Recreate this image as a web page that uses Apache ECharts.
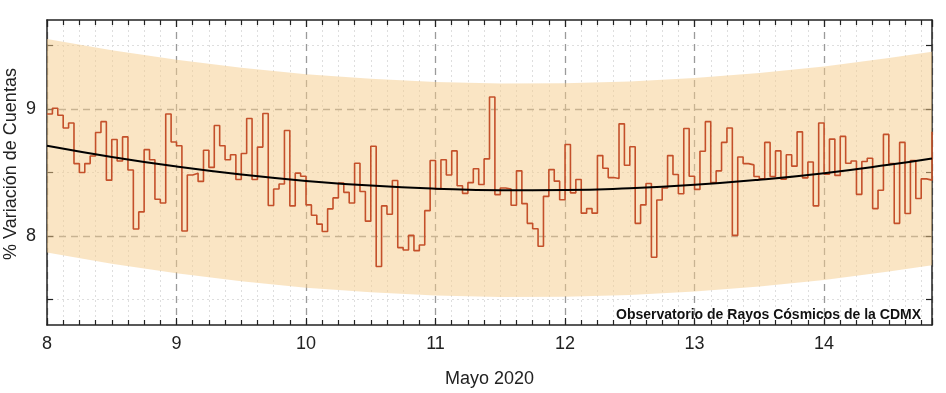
<!DOCTYPE html>
<html><head><meta charset="utf-8">
<script src="https://cdn.jsdelivr.net/npm/echarts@6/dist/echarts.min.js"></script>
<style>html,body{margin:0;padding:0;background:#fff}#c{width:946px;height:393px}</style>
</head><body><div id="c"></div>
<script>
// ---- data ----
const startDay = 8;            // 8 de mayo, 00:00
const hoursShown = 164;        // last visible hour boundary
const hourlyValues = [
 8.96, 9.005, 8.95, 8.85, 8.89, 8.57, 8.50, 8.57, 8.63, 8.815, 8.90, 8.44, 8.76, 8.59, 8.78, 8.52,
 8.055, 8.19, 8.68, 8.60, 8.29, 8.26, 8.96, 8.74, 8.71, 8.04, 8.48, 8.495, 8.43, 8.675, 8.54, 8.87,
 8.71, 8.60, 8.64, 8.445, 8.65, 8.925, 8.445, 8.70, 8.964, 8.24, 8.37, 8.41, 8.83, 8.237, 8.495, 8.47,
 8.245, 8.164, 8.094, 8.036, 8.214, 8.30, 8.417, 8.344, 8.26, 8.573, 8.35, 8.117, 8.706, 7.76, 8.237, 8.172,
 8.4375, 7.909, 7.89, 8.005, 7.885, 7.93, 8.20, 8.594, 8.37, 8.60, 8.48, 8.67, 8.396, 8.336, 8.42, 8.53,
 8.406, 8.607, 9.094, 8.326, 8.378, 8.37, 8.242, 8.513, 8.255, 8.10, 8.057, 7.92, 8.3125, 8.523, 8.432, 8.286,
 8.72, 8.34, 8.445, 8.18, 8.216, 8.18, 8.633, 8.534, 8.46, 8.453, 8.883, 8.557, 8.703, 8.10, 8.245, 8.414,
 7.833, 8.284, 8.378, 8.633, 8.484, 8.333, 8.846, 8.471, 8.367, 8.667, 8.90, 8.42, 8.513, 8.737, 8.85, 8.005,
 8.622, 8.57, 8.56, 8.469, 8.45, 8.737, 8.469, 8.67, 8.448, 8.64, 8.55, 8.82, 8.458, 8.583, 8.237, 8.89,
 8.487, 8.763, 8.477, 8.784, 8.573, 8.591, 8.328, 8.586, 8.612, 8.216, 8.36, 8.80, 8.57, 8.10, 8.737, 8.177,
 8.594, 8.295, 8.45, 8.44, 8.82
];
const fitX      = [8, 8.5, 9, 9.5, 10, 10.5, 11, 11.5, 12, 12.5, 13, 13.5, 14, 14.5, 14.8333];
const fitValues = [8.710, 8.622, 8.547, 8.484, 8.434, 8.397, 8.373, 8.361, 8.362, 8.376, 8.403, 8.443, 8.495, 8.561, 8.611];
const bandUpper = [9.550, 9.462, 9.387, 9.324, 9.274, 9.237, 9.213, 9.201, 9.202, 9.216, 9.243, 9.283, 9.335, 9.401, 9.451];
const bandLower = [7.870, 7.782, 7.707, 7.644, 7.594, 7.557, 7.533, 7.521, 7.522, 7.536, 7.563, 7.603, 7.655, 7.721, 7.771];
const xTickLabels = [8, 9, 10, 11, 12, 13, 14];
const yTickLabels = [8, 9];
const yTickMarks = [7.5, 8, 8.5, 9, 9.5];
const yMinorGrid = [7.5, 8.5, 9.5];
const xTitle = 'Mayo 2020';
const yTitle = '% Variación de Cuentas';
const credit = 'Observatorio de Rayos Cósmicos de la CDMX';

// ---- chart ----
const FONT = "'Liberation Sans', Arial, sans-serif";
const xMin = startDay, xMax = startDay + hoursShown / 24;
const yMin = 7.3, yMax = 9.7;
const stepData = hourlyValues.map((v, i) => [startDay + i / 24, v]);
const fitData = fitX.map((x, i) => [x, fitValues[i]]);
const bandData = fitX.map((x, i) => [x, bandLower[i], bandUpper[i]]);

const axisLineStyle = { color: '#222', width: 1.5 };
const chart = echarts.init(document.getElementById('c'), null, { renderer: 'canvas' });
chart.setOption({
  animation: false,
  backgroundColor: '#fff',
  grid: { left: 47, right: 14, top: 20, bottom: 67, containLabel: false },
  xAxis: [{
    type: 'value', min: xMin, max: xMax, interval: 1, position: 'bottom',
    name: xTitle, nameLocation: 'middle', nameGap: 45,
    nameTextStyle: { fontFamily: FONT, fontSize: 18, color: '#222' },
    axisLine: { show: true, onZero: false, lineStyle: axisLineStyle },
    axisTick: { show: true, inside: true, length: 7, lineStyle: { color: '#222', width: 1.2 } },
    minorTick: { show: true, splitNumber: 8, length: 5, lineStyle: { color: '#222', width: 1.2 } },
    axisLabel: { fontFamily: FONT, fontSize: 18, color: '#222', margin: 10, showMaxLabel: false,
      formatter: v => (xTickLabels.indexOf(Math.round(v * 1000) / 1000) >= 0 ? String(Math.round(v)) : '') },
    splitLine: { show: true, lineStyle: { color: '#9a9a9a', width: 1.3, type: [7, 5] } },
    minorSplitLine: { show: true, lineStyle: { color: '#dedede', width: 1, type: [2, 3] } }
  }, {
    type: 'value', min: xMin, max: xMax, interval: 1, position: 'top',
    axisLine: { show: true, onZero: false, lineStyle: axisLineStyle },
    axisTick: { show: true, inside: true, length: 7, lineStyle: { color: '#222', width: 1.2 } },
    minorTick: { show: true, splitNumber: 8, length: 5, lineStyle: { color: '#222', width: 1.2 } },
    axisLabel: { show: false }, splitLine: { show: false }
  }],
  yAxis: [{
    type: 'value', min: yMin, max: yMax, position: 'left',
    axisLine: { show: true, onZero: false, lineStyle: axisLineStyle },
    axisTick: { show: true, inside: true, length: 6, customValues: yTickMarks, lineStyle: { color: '#222', width: 1.2 } },
    axisLabel: { fontFamily: FONT, fontSize: 18, color: '#222', margin: 11, customValues: yTickLabels },
    splitLine: { show: false }
  }, {
    type: 'value', min: yMin, max: yMax, position: 'right',
    axisLine: { show: true, onZero: false, lineStyle: axisLineStyle },
    axisTick: { show: true, inside: true, length: 6, customValues: yTickMarks, lineStyle: { color: '#222', width: 1.2 } },
    axisLabel: { show: false }, splitLine: { show: false }
  }],
  series: [
    { // horizontal grid lines (under the band)
      type: 'line', data: [], z: 0, silent: true,
      markLine: {
        z: 0, silent: true, symbol: ['none', 'none'], label: { show: false }, animation: false,
        data: [
          ...yTickLabels.map(v => ({ yAxis: v, lineStyle: { color: '#9a9a9a', width: 1.3, type: [7, 5] } })),
          ...yMinorGrid.map(v => ({ yAxis: v, lineStyle: { color: '#dedede', width: 1, type: [2, 3] } }))
        ]
      }
    },
    { // confidence band drawn as one polygon through the axis scales
      type: 'custom', data: bandData, z: 1, silent: true, clip: true,
      encode: { x: 0, y: [1, 2] },
      renderItem: function (params, api) {
        if (params.dataIndex !== 0) return null;
        const pts = [];
        for (let i = 0; i < bandData.length; i++) pts.push(api.coord([bandData[i][0], bandData[i][2]]));
        for (let i = bandData.length - 1; i >= 0; i--) pts.push(api.coord([bandData[i][0], bandData[i][1]]));
        return { type: 'polygon', shape: { points: pts }, style: { fill: 'rgba(245,204,138,0.5)', stroke: null } };
      }
    },
    {
      type: 'line', data: stepData, step: 'end', showSymbol: false, z: 3,
      lineStyle: { color: '#c4502a', width: 1.6 }
    },
    {
      type: 'line', data: fitData, smooth: true, showSymbol: false, z: 4,
      lineStyle: { color: '#000', width: 2 }
    }
  ],
  graphic: [
    { type: 'text', x: 11, y: 164, rotation: Math.PI / 2, silent: true, z: 100,
      style: { text: yTitle, font: "18px 'Liberation Sans', Arial, sans-serif", fill: '#222', align: 'center', verticalAlign: 'middle' } },
    { type: 'text', x: 921, y: 315, silent: true, z: 100,
      style: { text: credit, font: "bold 14px 'Liberation Sans', Arial, sans-serif", fill: '#111', align: 'right', verticalAlign: 'middle' } }
  ]
});
</script></body></html>
